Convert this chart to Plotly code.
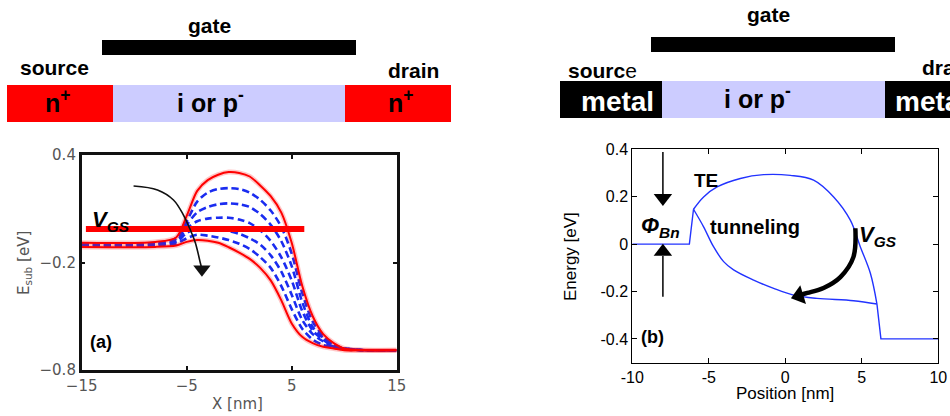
import plotly.graph_objects as go

W, H = 950, 416

# ---------------- Panel (a) data ----------------
xa = [-15, -8, -6, -5, -4, -3, -2, -1, 0, 1, 2, 3, 4, 5, 6, 7, 8, 9, 10, 12, 15]
a_red_top = [-0.09, -0.085, -0.06, 0.06, 0.20, 0.26, 0.29, 0.305, 0.30, 0.28, 0.23, 0.17, 0.08, -0.09, -0.33, -0.50, -0.60, -0.65, -0.68, -0.69, -0.69]
a_blue_1 = [-0.095, -0.09, -0.065, 0.03, 0.14, 0.19, 0.21, 0.215, 0.21, 0.19, 0.15, 0.09, 0.0, -0.15, -0.37, -0.53, -0.61, -0.66, -0.68, -0.69, -0.69]
a_blue_2 = [-0.10, -0.095, -0.07, 0.01, 0.08, 0.11, 0.125, 0.13, 0.125, 0.11, 0.07, 0.01, -0.08, -0.22, -0.42, -0.56, -0.62, -0.66, -0.68, -0.69, -0.69]
a_blue_3 = [-0.10, -0.10, -0.08, -0.01, 0.03, 0.045, 0.05, 0.05, 0.04, 0.02, -0.02, -0.08, -0.17, -0.30, -0.47, -0.58, -0.63, -0.67, -0.68, -0.69, -0.69]
a_blue_4 = [-0.105, -0.10, -0.085, -0.035, -0.01, -0.01, -0.015, -0.025, -0.04, -0.065, -0.10, -0.16, -0.25, -0.38, -0.52, -0.60, -0.64, -0.67, -0.68, -0.69, -0.69]
a_blue_5 = [-0.11, -0.105, -0.095, -0.065, -0.045, -0.05, -0.06, -0.075, -0.095, -0.125, -0.17, -0.23, -0.33, -0.46, -0.57, -0.63, -0.66, -0.675, -0.685, -0.69, -0.69]
a_red_bottom = [-0.113, -0.113, -0.105, -0.085, -0.074, -0.078, -0.09, -0.115, -0.145, -0.18, -0.23, -0.30, -0.41, -0.54, -0.615, -0.65, -0.67, -0.68, -0.69, -0.69, -0.69]
a_blues = [a_blue_1, a_blue_2, a_blue_3, a_blue_4, a_blue_5]

a_vgs_x = [-14.6, 6.2]
a_vgs_y = [-0.013, -0.013]
a_arrow_x = [-10.06, -7.78, -6.26, -5.31, -4.65, -4.17, -3.70, -3.58]
a_arrow_y = [0.227, 0.205, 0.149, 0.065, -0.019, -0.091, -0.203, -0.23]
a_head = (-3.55, -0.238)

a_xticks = [-15, -5, 5, 15]
a_xticktext = ["\u221215", "\u22125", "5", "15"]
a_yticks = [0.4, -0.2, -0.8]
a_yticktext = ["0.4", "\u22120.2", "\u22120.8"]

# ---------------- Panel (b) data ----------------
b_left_x = [-10, -6.27, -6.0]
b_left_y = [0.0, 0.0, 0.147]
b_te_x = [-6.0, -5.34, -4.46, -2.94, -1.42, 0.33, 1.85, 3.16, 4.25, 4.9, 5.56, 5.99]
b_te_y = [0.147, 0.199, 0.241, 0.277, 0.293, 0.29, 0.27, 0.199, 0.101, -0.011, -0.123, -0.253]
b_tun_x = [-6.0, -5.34, -4.69, -4.03, -3.38, -2.07, -0.76, 0.54, 2.07, 4.46, 5.99]
b_tun_y = [0.147, 0.073, -0.011, -0.074, -0.109, -0.152, -0.187, -0.215, -0.229, -0.239, -0.253]
b_right_x = [5.99, 6.25, 10]
b_right_y = [-0.253, -0.4, -0.4]

b_down_x = [-8, -8]
b_down_y = [0.389, 0.21]
b_up_x = [-8, -8]
b_up_y = [-0.222, -0.05]
b_vgs_arrow_x = [4.58, 4.45, 3.6, 2.5, 1.44, 1.0]
b_vgs_arrow_y = [0.067, -0.055, -0.139, -0.185, -0.206, -0.214]

b_xticks = [-10, -5, 0, 5, 10]
b_xticktext = ["-10", "-5", "0", "5", "10"]
b_yticks = [0.4, 0.2, 0, -0.2, -0.4]
b_yticktext = ["0.4", "0.2", "0", "-0.2", "-0.4"]

# ---------------- helpers ----------------
def px(x):
    return x / W

def py(y):
    return 1 - y / H

ARIAL = "Liberation Sans, Arial, sans-serif"
MAT = "DejaVu Sans, sans-serif"

fig = go.Figure()

# ---- panel (a) traces
for yb in a_blues:
    fig.add_trace(go.Scatter(x=xa, y=yb, mode="lines", xaxis="x", yaxis="y",
                             line=dict(color="#1a2cf0", width=2.6, dash="7px,4px", shape="spline", smoothing=0.8),
                             hoverinfo="skip", showlegend=False))
for yr in [a_red_top, a_red_bottom]:
    fig.add_trace(go.Scatter(x=xa, y=yr, mode="lines", xaxis="x", yaxis="y",
                             line=dict(color="rgba(255,0,0,0.22)", width=5, shape="spline", smoothing=0.8),
                             hoverinfo="skip", showlegend=False))
    fig.add_trace(go.Scatter(x=xa, y=yr, mode="lines", xaxis="x", yaxis="y",
                             line=dict(color="#ff0000", width=2, shape="spline", smoothing=0.8),
                             hoverinfo="skip", showlegend=False))
fig.add_trace(go.Scatter(x=a_vgs_x, y=a_vgs_y, mode="lines", xaxis="x", yaxis="y",
                         line=dict(color="#ff0000", width=6), hoverinfo="skip", showlegend=False))
fig.add_trace(go.Scatter(x=a_arrow_x, y=a_arrow_y, mode="lines", xaxis="x", yaxis="y",
                         line=dict(color="#111111", width=1.6, shape="spline"), hoverinfo="skip", showlegend=False))
fig.add_trace(go.Scatter(x=[a_head[0]], y=[a_head[1]], mode="markers", xaxis="x", yaxis="y",
                         marker=dict(symbol="triangle-down", size=15, color="#111111"),
                         hoverinfo="skip", showlegend=False))

# ---- panel (b) traces
BLUE = "#2233ff"
for xs, ys, shp in [(b_left_x, b_left_y, "linear"), (b_te_x, b_te_y, "spline"),
                    (b_tun_x, b_tun_y, "spline"), (b_right_x, b_right_y, "linear")]:
    fig.add_trace(go.Scatter(x=xs, y=ys, mode="lines", xaxis="x2", yaxis="y2",
                             line=dict(color=BLUE, width=1.4, shape=shp),
                             hoverinfo="skip", showlegend=False))
fig.add_trace(go.Scatter(x=b_down_x, y=b_down_y, mode="lines", xaxis="x2", yaxis="y2",
                         line=dict(color="black", width=1.5), hoverinfo="skip", showlegend=False))
fig.add_trace(go.Scatter(x=[b_down_x[0]], y=[0.195], mode="markers", xaxis="x2", yaxis="y2",
                         marker=dict(symbol="triangle-down", size=16, color="black"),
                         hoverinfo="skip", showlegend=False))
fig.add_trace(go.Scatter(x=b_up_x, y=b_up_y, mode="lines", xaxis="x2", yaxis="y2",
                         line=dict(color="black", width=1.5), hoverinfo="skip", showlegend=False))
fig.add_trace(go.Scatter(x=[b_up_x[0]], y=[-0.032], mode="markers", xaxis="x2", yaxis="y2",
                         marker=dict(symbol="triangle-up", size=16, color="black"),
                         hoverinfo="skip", showlegend=False))
fig.add_trace(go.Scatter(x=b_vgs_arrow_x, y=b_vgs_arrow_y, mode="lines", xaxis="x2", yaxis="y2",
                         line=dict(color="black", width=4.5, shape="spline"), hoverinfo="skip", showlegend=False))
fig.add_trace(go.Scatter(x=[0.9], y=[-0.218], mode="markers", xaxis="x2", yaxis="y2",
                         marker=dict(symbol="triangle-left", size=17, color="black", angle=-17),
                         hoverinfo="skip", showlegend=False))

# ---------------- axes ----------------
fig.update_layout(
    width=W, height=H, autosize=False,
    margin=dict(l=0, r=0, t=0, b=0, pad=0, autoexpand=False),
    paper_bgcolor="white", plot_bgcolor="white",
    showlegend=False,
    xaxis=dict(domain=[px(81.7), px(396.7)], range=[-15, 15], anchor="y", automargin=False,
               showgrid=False, zeroline=False, showline=True, linecolor="#111", linewidth=2.5, mirror="ticks",
               ticks="inside", ticklen=4, tickcolor="#111", tickwidth=1.5,
               tickvals=a_xticks, ticktext=a_xticktext,
               tickfont=dict(family=MAT, size=15, color="#555")),
    yaxis=dict(domain=[py(370), py(155)], range=[-0.8, 0.4], anchor="x", automargin=False,
               showgrid=False, zeroline=False, showline=True, linecolor="#111", linewidth=2.5, mirror="ticks",
               ticks="inside", ticklen=4, tickcolor="#111", tickwidth=1.5,
               tickvals=a_yticks, ticktext=a_yticktext,
               tickfont=dict(family=MAT, size=15, color="#555")),
    xaxis2=dict(domain=[px(632.3), px(938.3)], range=[-10, 10], anchor="y2", automargin=False,
                showgrid=False, zeroline=False, showline=True, linecolor="black", linewidth=1, mirror="ticks",
                ticks="inside", ticklen=5, tickcolor="black",
                tickvals=b_xticks, ticktext=b_xticktext,
                tickfont=dict(family=ARIAL, size=16, color="black")),
    yaxis2=dict(domain=[py(362.6), py(149.3)], range=[-0.5, 0.4], anchor="x2", automargin=False,
                showgrid=False, zeroline=False, showline=True, linecolor="black", linewidth=1, mirror="ticks",
                ticks="inside", ticklen=5, tickcolor="black",
                tickvals=b_yticks, ticktext=b_yticktext,
                tickfont=dict(family=ARIAL, size=16, color="black")),
)

# ---------------- schematic shapes ----------------
RED = "#ff0000"
LAV = "#ccccff"
shapes = []

def rect(x0, x1, y0, y1, color):
    shapes.append(dict(type="rect", xref="paper", yref="paper",
                       x0=px(x0), x1=px(x1), y0=py(y1), y1=py(y0),
                       fillcolor=color, line=dict(width=0), layer="below"))

# left device
rect(102, 356, 40, 55, "black")
rect(7, 113, 85, 122, RED)
rect(113, 345, 85, 122, LAV)
rect(345, 451, 85, 122, RED)
# right device
rect(651, 895, 37, 52, "black")
rect(560, 662, 81, 118, "black")
rect(662, 885, 81, 118, LAV)
rect(885, 950, 81, 118, "black")
fig.update_layout(shapes=shapes)

anns = []

def ptext(text, x, y, size, color="black", family=ARIAL, xanchor="center", angle=0):
    anns.append(dict(text=text, xref="paper", yref="paper", x=px(x), y=py(y),
                     xanchor=xanchor, yanchor="middle", showarrow=False, textangle=angle,
                     font=dict(family=family, size=size, color=color)))

def dtext(text, x, y, size, axis, xanchor="center", color="black"):
    anns.append(dict(text=text, xref="x" + axis, yref="y" + axis, x=x, y=y,
                     xanchor=xanchor, yanchor="middle", showarrow=False,
                     font=dict(family=ARIAL, size=size, color=color)))

# left schematic labels
ptext("<b>gate</b>", 209, 25, 21)
ptext("<b>source</b>", 54, 67, 21)
ptext("<b>drain</b>", 413, 70, 21)
ptext("<b>n<sup>+</sup></b>", 58, 101, 25)
ptext("<b>i or p<sup>-</sup></b>", 210, 101, 25)
ptext("<b>n<sup>+</sup></b>", 401, 101, 25)
# right schematic labels
ptext("<b>gate</b>", 768, 15, 21)
ptext("<b>sourc</b>e", 602, 70, 21)
ptext("<b>drain</b>", 920, 68, 21, xanchor="left")
ptext("<b>metal</b>", 617, 101, 28, color="white")
ptext("<b>i or p<sup>-</sup></b>", 757, 97, 25)
ptext("<b>metal</b>", 893, 101, 28, color="white", xanchor="left")

# panel (a) labels
dtext("<b><i>V<sub>GS</sub></i></b>", -14.2, 0.032, 22, "", xanchor="left")
dtext("<b>(a)</b>", -13.2, -0.644, 18, "")
ptext("E<sub>sub</sub> [eV]", 24, 263, 15, color="#555", family=MAT, angle=-90)
ptext("X [nm]", 237, 404, 15, color="#555", family=MAT)

# panel (b) labels
dtext("<b>TE</b>", -5.16, 0.27, 19, "2")
dtext("<b>tunneling</b>", -1.96, 0.072, 20, "2")
dtext("<b><i>V<sub>GS</sub></i></b>", 4.71, 0.034, 22, "2", xanchor="left")
dtext("<b><i>\u03a6<sub>Bn</sub></i></b>", -8.17, 0.072, 22, "2")
dtext("<b>(b)</b>", -8.69, -0.39, 18, "2")
ptext("Energy [eV]", 570, 257, 17, angle=-90)
ptext("Position [nm]", 785, 393, 17)

fig.update_layout(annotations=anns)

fig.write_html("out.html",
               config={"displayModeBar": False},
               post_script="document.body.style.margin='0';document.body.style.overflow='hidden';")
